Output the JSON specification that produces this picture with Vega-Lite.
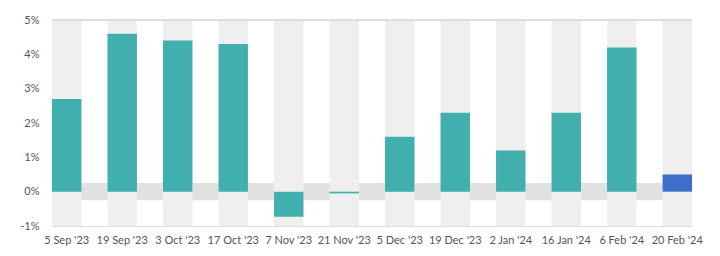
{
  "$schema": "https://vega.github.io/schema/vega-lite/v6.json",
  "width": 640,
  "height": 206,
  "autosize": {"type": "none"},
  "padding": {"left": 52, "top": 20, "right": 28, "bottom": 30},
  "config": {
    "view": {"stroke": null},
    "font": "Lato",
    "axisX": {"labelAngle": 0, "labelAlign": "center", "labelBaseline": "top", "ticks": false, "domainColor": "#dddddd", "labelPadding": 8, "labelFont": "Lato", "labelFontSize": 11, "labelColor": "#555555", "labelOverlap": false, "title": null},
    "axisY": {"tickCount": 7, "labelExpr": "datum.value + '%'", "grid": false, "domain": false, "ticks": false, "labelPadding": 13, "labelFont": "Lato", "labelFontSize": 11, "labelColor": "#555555", "labelOverlap": false, "labelAlign": "right", "labelBaseline": "middle", "title": null}
  },
  "datasets": {
    "bars": [
      {"date": "5 Sep '23", "value": 2.7},
      {"date": "19 Sep '23", "value": 4.6},
      {"date": "3 Oct '23", "value": 4.4},
      {"date": "17 Oct '23", "value": 4.3},
      {"date": "7 Nov '23", "value": -0.73},
      {"date": "21 Nov '23", "value": -0.05},
      {"date": "5 Dec '23", "value": 1.6},
      {"date": "19 Dec '23", "value": 2.3},
      {"date": "2 Jan '24", "value": 1.2},
      {"date": "16 Jan '24", "value": 2.3},
      {"date": "6 Feb '24", "value": 4.2},
      {"date": "20 Feb '24", "value": 0.5}
    ],
    "zeroband": [{"lo": -0.25, "hi": 0.25}]
  },
  "layer": [
    {
      "data": {"name": "bars"},
      "mark": {"type": "bar"},
      "encoding": {
        "x": {
          "field": "date",
          "type": "nominal",
          "sort": null,
          "title": null,
          "scale": {"paddingInner": 0.47, "paddingOuter": 0}
        },
        "y": {
          "field": "value",
          "type": "quantitative",
          "title": null,
          "scale": {"domain": [-1, 5], "nice": false, "zero": false},
          "axis": {"values": [-1, 0, 1, 2, 3, 4, 5]}
        },
        "opacity": {"value": 0}
      }
    },
    {
      "data": {"name": "zeroband"},
      "mark": {"type": "rect", "color": "#e1e1e1"},
      "encoding": {
        "y": {"field": "lo", "type": "quantitative", "title": null, "axis": {"values": [-1, 0, 1, 2, 3, 4, 5]}},
        "y2": {"field": "hi"}
      }
    },
    {
      "data": {"name": "bars"},
      "mark": {"type": "bar", "color": "#efefef"},
      "encoding": {
        "x": {"field": "date", "type": "nominal", "sort": null, "title": null},
        "y": {"datum": 5, "type": "quantitative", "title": null, "axis": {"values": [-1, 0, 1, 2, 3, 4, 5]}},
        "y2": {"datum": -1}
      }
    },
    {
      "data": {"name": "bars"},
      "mark": {"type": "rule", "color": "#dddddd", "strokeWidth": 1},
      "encoding": {"y": {"datum": 5, "type": "quantitative", "title": null, "axis": {"values": [-1, 0, 1, 2, 3, 4, 5]}}}
    },
    {
      "data": {"name": "bars"},
      "mark": {"type": "bar"},
      "encoding": {
        "x": {"field": "date", "type": "nominal", "sort": null, "title": null},
        "y": {"field": "value", "type": "quantitative", "title": null, "axis": {"values": [-1, 0, 1, 2, 3, 4, 5]}},
        "color": {
          "condition": {"test": "datum.date === \"20 Feb '24\"", "value": "#3b6fca"},
          "value": "#40afad"
        }
      }
    }
  ]
}
